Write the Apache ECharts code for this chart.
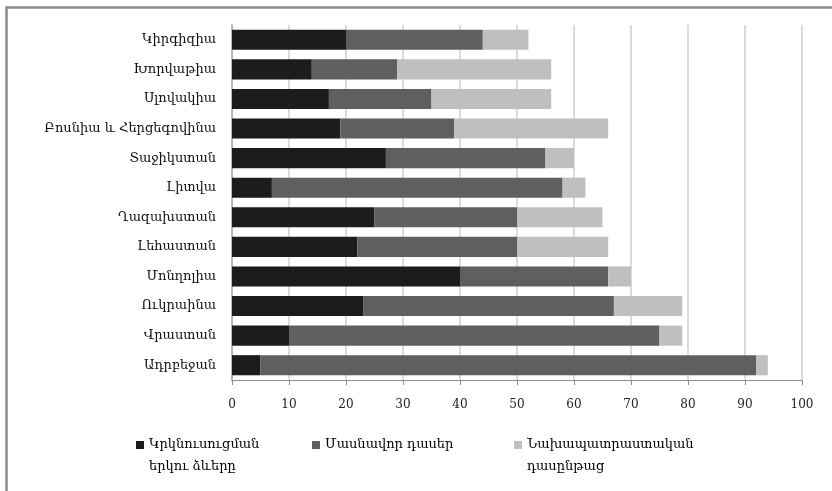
<!DOCTYPE html>
<html>
<head>
<meta charset="utf-8">
<script src="https://cdn.jsdelivr.net/npm/echarts@6/dist/echarts.min.js"></script>
<style>
html,body{margin:0;padding:0;background:#fff;}
#chart{width:832px;height:491px;}
</style>
</head>
<body>
<div id="chart"></div>
<script>
// Categories listed bottom-to-top (ECharts category axis starts at the bottom)
const categories = ["Ադրբեջան","Վրաստան","Ուկրաինա","Մոնղոլիա","Լեհաստան","Ղազախստան","Լիտվա","Տաջիկստան","Բոսնիա և Հերցեգովինա","Սլովակիա","Խորվաթիա","Կիրգիզիա"];
const seriesNames = ["Կրկնուսուցման\nերկու ձևերը","Մասնավոր դասեր","Նախապատրաստական\nդասընթաց"];
const bothForms = [5,10,23,40,22,25,7,27,19,17,14,20];
const privateLessons = [87,65,44,26,28,25,51,28,20,18,15,24];
const prepCourses = [2,4,12,4,16,15,4,5,27,21,27,8];
const xTicks = [0,10,20,30,40,50,60,70,80,90,100];

const colors = ["#1c1c1c","#5f5f5f","#bfbfbf"];
const FONT = "DejaVu Serif";
const chart = echarts.init(document.getElementById('chart'));
const LH = 22;
// square at top of a taller icon box so it lines up with the first text line
const TALL_ICON = 'path://M0,0L8,0L8,8L0,8Z M0,29.95L0.02,29.95L0.02,30L0,30Z';
function legendItem(i, left, twoLine){
  return {
    left: left, top: 429, orient: 'horizontal',
    itemWidth: 8, itemHeight: twoLine ? 30 : 8, itemGap: 0,
    icon: twoLine ? TALL_ICON : 'rect',
    selectedMode: false,
    data: [seriesNames[i]],
    textStyle: {fontFamily: FONT, fontSize: 13, color: '#000', lineHeight: LH}
  };
}
chart.setOption({
  animation: false,
  backgroundColor: '#fff',
  graphic: [{
    type: 'rect', left: 4, top: 5, shape: {width: 900, height: 600},
    style: {fill: 'none', stroke: '#8a8a8a', lineWidth: 2.5}, silent: true
  }],
  grid: {left: 232, right: 30, top: 25, bottom: 111, containLabel: false},
  legend: [legendItem(0, 131, true), legendItem(1, 307, false), legendItem(2, 509, true)],
  xAxis: {
    type: 'value', min: 0, max: 100, interval: 10,
    axisLine: {show: true, lineStyle: {color: '#8c8c8c', width: 1}},
    axisTick: {show: true, length: 5, lineStyle: {color: '#8c8c8c'}},
    axisLabel: {fontFamily: FONT, fontSize: 12, color: '#222', margin: 19,
      formatter: v => xTicks.includes(v) ? String(v) : ''},
    splitLine: {show: true, lineStyle: {color: '#cfcfcf', width: 1.5}}
  },
  yAxis: {
    type: 'category', data: categories,
    axisLine: {show: true, lineStyle: {color: '#a8a8a8', width: 1.5}},
    axisTick: {show: false},
    axisLabel: {fontFamily: FONT, fontSize: 13, color: '#111', margin: 16}
  },
  series: [
    {name: seriesNames[0], type: 'bar', stack: 's', data: bothForms, barCategoryGap: '32%', itemStyle: {color: colors[0]}},
    {name: seriesNames[1], type: 'bar', stack: 's', data: privateLessons, barCategoryGap: '32%', itemStyle: {color: colors[1]}},
    {name: seriesNames[2], type: 'bar', stack: 's', data: prepCourses, barCategoryGap: '32%', itemStyle: {color: colors[2]}}
  ]
});
</script>
</body>
</html>
